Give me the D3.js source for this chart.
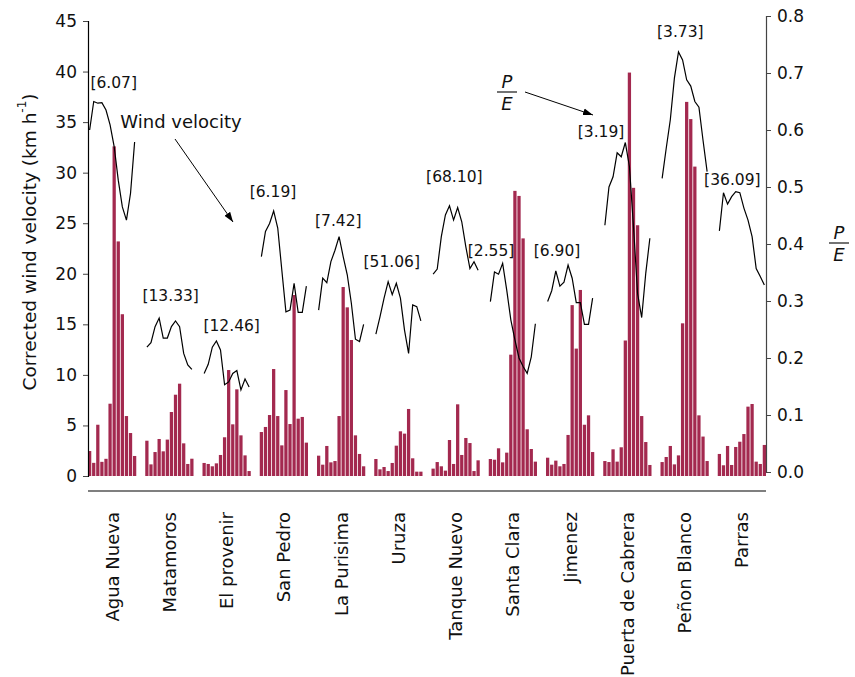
<!DOCTYPE html>
<html><head><meta charset="utf-8">
<script src="https://cdn.jsdelivr.net/npm/d3@7"></script>
<style>
body{margin:0;background:#fff}
text{font-family:"DejaVu Sans",sans-serif;fill:#111}
</style>
</head><body>
<svg id="c" width="855" height="677"></svg>
<script>
// ---------------- DATA ----------------
const stations = ["Agua Nueva","Matamoros","El provenir","San Pedro","La Purisima","Uruza",
  "Tanque Nuevo","Santa Clara","Jimenez","Puerta de Cabrera","Peñon Blanco","Parras"];
const months = [1,2,3,4,5,6,7,8,9,10,11,12];
const annotations = ["[6.07]","[13.33]","[12.46]","[6.19]","[7.42]","[51.06]",
  "[68.10]","[2.55]","[6.90]","[3.19]","[3.73]","[36.09]"];
const windTicks = [0,5,10,15,20,25,30,35,40,45];
const peTicks = [0,0.1,0.2,0.3,0.4,0.5,0.6,0.7,0.8];

// corrected wind velocity (km/h), 12 months per station
const windAguaNueva   = [2.47,1.3,5.07,1.4,1.7,7.15,32.6,23.2,16.0,5.93,4.25,1.98];
const windMatamoros   = [3.49,1.15,2.37,3.66,2.44,3.6,6.33,8.04,9.13,3.23,1.19,1.71];
const windElProvenir  = [1.29,1.19,0.96,1.25,2.08,3.83,10.48,5.11,8.57,4.02,2.04,0.49];
const windSanPedro    = [4.35,4.85,6.03,10.58,5.93,3.03,8.5,5.14,17.9,5.67,5.84,3.3];
const windLaPurisima  = [2.01,1.12,2.97,1.35,1.48,5.93,18.69,16.68,13.45,4.02,2.18,0.96];
const windUruza       = [1.68,0.66,0.89,0.49,1.29,3.0,4.42,4.19,6.63,1.75,0.43,0.43];
const windTanqueNuevo = [0.73,1.38,0.96,0.53,3.56,1.19,7.09,2.08,3.76,3.26,0.49,1.55];
const windSantaClara  = [1.68,1.61,2.74,1.35,2.31,12.0,28.2,27.7,23.5,4.62,2.67,1.42];
const windJimenez     = [1.81,1.12,1.52,0.96,1.19,4.06,16.9,12.6,18.4,5.07,6.0,2.37];
const windPuerta      = [1.48,1.38,2.64,1.42,2.84,13.4,39.9,28.5,24.8,5.93,3.36,1.09];
const windPenon       = [1.38,1.88,2.97,1.15,2.04,15.1,37.0,35.3,30.6,6.0,3.9,1.48];
const windParras      = [2.18,1.06,2.97,1.09,2.87,3.39,4.15,6.86,7.12,1.42,1.19,3.07];

// precipitation / evaporation ratio, 12 months per station
const peAguaNueva   = [0.600,0.650,0.647,0.648,0.635,0.609,0.571,0.512,0.465,0.442,0.489,0.579];
const peMatamoros   = [0.219,0.227,0.255,0.270,0.235,0.235,0.255,0.265,0.255,0.208,0.188,0.180];
const peElProvenir  = [0.173,0.189,0.219,0.230,0.214,0.153,0.158,0.173,0.178,0.144,0.163,0.149];
const peSanPedro    = [0.378,0.422,0.436,0.458,0.428,0.354,0.281,0.284,0.331,0.280,0.280,0.326];
const peLaPurisima  = [0.284,0.340,0.332,0.369,0.389,0.413,0.378,0.346,0.296,0.233,0.229,0.259];
const peUruza       = [0.242,0.272,0.305,0.334,0.311,0.331,0.305,0.249,0.208,0.293,0.290,0.265];
const peTanqueNuevo = [0.347,0.356,0.413,0.451,0.467,0.442,0.464,0.439,0.395,0.357,0.369,0.354];
const peSantaClara  = [0.299,0.351,0.347,0.366,0.319,0.267,0.232,0.200,0.185,0.173,0.202,0.260];
const peJimenez     = [0.299,0.318,0.353,0.326,0.333,0.363,0.340,0.297,0.297,0.259,0.259,0.305];
const pePuerta      = [0.433,0.500,0.518,0.560,0.553,0.578,0.536,0.430,0.313,0.271,0.349,0.410];
const pePenon       = [0.515,0.568,0.618,0.691,0.737,0.723,0.688,0.677,0.650,0.640,0.582,0.527];
const peParras      = [0.423,0.490,0.470,0.483,0.492,0.490,0.463,0.442,0.413,0.357,0.343,0.328];

const windSeries = [windAguaNueva,windMatamoros,windElProvenir,windSanPedro,windLaPurisima,windUruza,
  windTanqueNuevo,windSantaClara,windJimenez,windPuerta,windPenon,windParras];
const peSeries = [peAguaNueva,peMatamoros,peElProvenir,peSanPedro,peLaPurisima,peUruza,
  peTanqueNuevo,peSantaClara,peJimenez,pePuerta,pePenon,peParras];

// ---------------- LAYOUT ----------------
const svg = d3.select("#c");
const slotsPerGroup = 14;
const x = d3.scaleLinear().domain([-0.4, 11*slotsPerGroup + 11 + 0.4]).range([88, 766]);
const yL = d3.scaleLinear().domain([0,45]).range([476,21]);
const yR = d3.scaleLinear().domain([0,0.8]).range([472,16]);
const pitch = x(1) - x(0);
const bw = pitch*0.8;
const slot = (g,i) => g*slotsPerGroup + i;

// annotation placement (label centre: slot offset within group, P/E height)
const annotPlace = [[5.88,0.682],[5.82,0.309],[6.74,0.257],[2.84,0.491],[4.81,0.440],[3.87,0.368],
  [5.18,0.518],[0.16,0.388],[2.30,0.388],[-0.94,0.596],[4.45,0.772],[3.17,0.512]];

// bars
const barData = [];
windSeries.forEach((s,g)=>s.forEach((v,i)=>barData.push({g,i,v})));
svg.append("g").selectAll("rect").data(barData).join("rect")
  .attr("x", d=>x(slot(d.g,d.i)) - bw/2)
  .attr("width", bw)
  .attr("y", d=>yL(d.v))
  .attr("height", d=>yL(0)-yL(d.v))
  .attr("fill", "#a3294f");

// P/E lines
const line = d3.line().x(d=>x(slot(d.g,d.i))).y(d=>yR(d.v));
svg.append("g").selectAll("path").data(peSeries.map((s,g)=>s.map((v,i)=>({g,i,v})))).join("path")
  .attr("d", line).attr("fill","none").attr("stroke","#000").attr("stroke-width",1.2);

// annotations
svg.append("g").selectAll("text").data(annotations).join("text")
  .attr("x",(d,g)=>x(slot(g,0)+annotPlace[g][0]))
  .attr("y",(d,g)=>yR(annotPlace[g][1]))
  .attr("text-anchor","middle").attr("dominant-baseline","central")
  .attr("font-size","15.5px").text(d=>d);

// left axis
const axL = svg.append("g").attr("transform","translate(88,0)")
  .call(d3.axisLeft(yL).tickValues(windTicks).tickSizeOuter(0).tickSize(5).tickPadding(6));
axL.select(".domain").attr("stroke","#000").attr("stroke-width",1.2);
axL.selectAll(".tick line").attr("stroke","#444");
axL.selectAll(".tick text").attr("font-size","17px").attr("fill","#111").attr("font-family","DejaVu Sans");

// right axis
const axR = svg.append("g").attr("transform","translate(766,0)")
  .call(d3.axisRight(yR).tickValues(peTicks).tickFormat(d3.format(".1f")).tickSizeOuter(0).tickSize(5).tickPadding(6));
axR.select(".domain").attr("stroke","#444").attr("stroke-width",1.2);
axR.selectAll(".tick line").attr("stroke","#444");
axR.selectAll(".tick text").attr("font-size","17px").attr("fill","#111").attr("font-family","DejaVu Sans");

// bottom baseline
svg.append("line").attr("x1",88).attr("x2",766).attr("y1",491).attr("y2",491)
  .attr("stroke","#000").attr("stroke-width",1.2);

// category labels
svg.append("g").selectAll("text").data(stations).join("text")
  .attr("transform",(d,g)=>`translate(${x(slot(g,5.5))},512) rotate(-90)`)
  .attr("text-anchor","end").attr("dominant-baseline","central")
  .attr("font-size","18px").text(d=>d);

// left axis title
const t = svg.append("text").attr("transform","translate(29,242) rotate(-90)")
  .attr("text-anchor","middle").attr("dominant-baseline","central").attr("font-size","18.5px");
t.append("tspan").text("Corrected wind velocity (km h");
t.append("tspan").attr("font-size","12px").attr("dy","-7").text("-1");
t.append("tspan").attr("dy","7").text(")");

// P/E fractions
function frac(cx, cy){
  const g = svg.append("g");
  g.append("text").attr("x",cx).attr("y",cy-11).attr("text-anchor","middle").attr("dominant-baseline","central")
    .attr("font-style","italic").attr("font-size","18px").text("P");
  g.append("line").attr("x1",cx-10).attr("x2",cx+10).attr("y1",cy).attr("y2",cy).attr("stroke","#000").attr("stroke-width",1.1);
  g.append("text").attr("x",cx).attr("y",cy+11).attr("text-anchor","middle").attr("dominant-baseline","central")
    .attr("font-style","italic").attr("font-size","18px").text("E");
}
frac(507,92);
frac(839,243);

// arrows
const defs = svg.append("defs");
defs.append("marker").attr("id","ah").attr("viewBox","0 0 10 10").attr("refX",10).attr("refY",5)
  .attr("markerWidth",10).attr("markerHeight",10).attr("markerUnits","userSpaceOnUse").attr("orient","auto")
  .append("path").attr("d","M0,1.5 L10,5 L0,8.5 Z").attr("fill","#000");
svg.append("line").attr("x1",175).attr("y1",139).attr("x2",233).attr("y2",222)
  .attr("stroke","#000").attr("stroke-width",1).attr("marker-end","url(#ah)");
svg.append("text").attr("x",181).attr("y",121).attr("text-anchor","middle").attr("dominant-baseline","central")
  .attr("font-size","18px").text("Wind velocity");
svg.append("line").attr("x1",525).attr("y1",92).attr("x2",593).attr("y2",115)
  .attr("stroke","#000").attr("stroke-width",1).attr("marker-end","url(#ah)");
</script>
</body></html>
